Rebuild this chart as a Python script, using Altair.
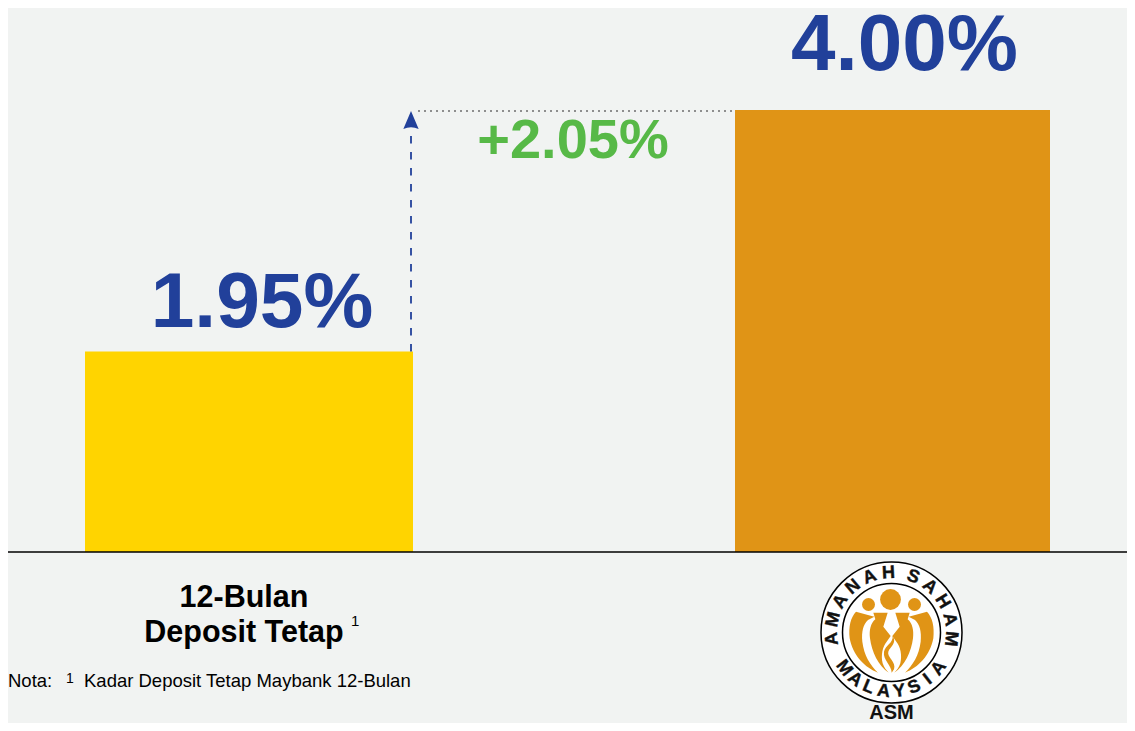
import math
import re
import altair as alt
import pandas as pd

# ---- data -------------------------------------------------------------
categories = ["12-Bulan Deposit Tetap", "ASM"]
rates = [1.95, 4.00]
rate_labels = ["1.95%", "4.00%"]
gap_label = "+2.05%"
bar_colors = ["#FFD400", "#E09416"]
label_line1 = "12-Bulan"
label_line2 = "Deposit Tetap"
note_head = "Nota:"
note_text = "Kadar Deposit Tetap Maybank 12-Bulan"
logo_top = "AMANAH SAHAM"
logo_bottom = "MALAYSIA"
logo_name = "ASM"

FONT = "Liberation Sans"
BLUE = "#21409A"
GREEN = "#57B947"
ORANGE = "#E09416"
BG = "#F1F3F2"
W, H = 1119, 715
OX, OY = 8, 8  # page margin

df = pd.DataFrame({"cat": categories, "rate": rates, "label": rate_labels})

x_scale = alt.Scale(type="point", domain=categories, range=[249 - OX, 892.5 - OX], padding=0)
y_scale = alt.Scale(domain=[0, 1.95, 4.0], range=[552 - OY, 351.5 - OY, 110 - OY])
X = alt.X("cat:N", scale=x_scale, axis=None)
Y = alt.Y("rate:Q", scale=y_scale, axis=None)

bars = alt.Chart(df).mark_bar().encode(
    x=X, y=Y,
    size=alt.Size("cat:N", scale=alt.Scale(domain=categories, range=[328, 315]), legend=None),
    color=alt.Color("cat:N", scale=alt.Scale(domain=categories, range=bar_colors), legend=None),
)

def value_label(row, dx, dy, size):
    return alt.Chart(df.iloc[[row]]).mark_text(
        font=FONT, fontWeight="bold", fontSize=size, color=BLUE,
        baseline="alphabetic", align="center", dx=dx, dy=dy,
    ).encode(x=X, y=Y, text="label:N")

baseline = alt.Chart(pd.DataFrame({"rate": [0.0]})).mark_rule(color="#000000", strokeWidth=1.5).encode(
    y=Y, x=alt.value(0), x2=alt.value(W)
)
dotted = alt.Chart(pd.DataFrame({"rate": [4.0]})).mark_rule(
    color="#6E6E6E", strokeWidth=1.5, strokeDash=[2, 4]
).encode(y=Y, yOffset=alt.value(1), x=alt.value(418 - OX), x2=alt.value(735 - OX))
riser = alt.Chart(pd.DataFrame({"rate": [1.95], "top": [3.85]})).mark_rule(
    color=BLUE, strokeWidth=2, strokeDash=[7.5, 8.5], opacity=0.9
).encode(y=Y, y2=alt.Y2("top:Q"), x=alt.value(411 - OX))
head = alt.Chart(pd.DataFrame({"rate": [4.0]})).mark_point(
    shape="M0,-1 L0.85,1 Q0,0.6 -0.85,1 Z", filled=True, color=BLUE, opacity=1, size=324, strokeWidth=0
).encode(y=alt.value(120 - OY), x=alt.value(411 - OX))

def free_text(text, x, y, size, weight="normal", align="left", color="#000000"):
    return alt.Chart(pd.DataFrame({"t": [text]})).mark_text(
        font=FONT, fontSize=size, fontWeight=weight, align=align, baseline="alphabetic", color=color
    ).encode(x=alt.value(x - OX), y=alt.value(y - OY), text="t:N")

gap = free_text(gap_label, 573, 158, 56, "bold", "center", GREEN)
labels = [
    free_text(label_line1, 244, 606.5, 30.5, "bold", "center"),
    free_text(label_line2, 244, 641.5, 30.5, "bold", "center"),
    free_text("1", 351, 626, 15),
    free_text(note_head, 8, 686.5, 18.5),
    free_text("1", 66, 683, 14),
    free_text(note_text, 84, 686.5, 18.5),
]

# ---- logo -------------------------------------------------------------
CX, CY = 891.5 - OX, 632.5 - OY
LX = alt.X("px:Q", scale=None, axis=None)
LY = alt.Y("py:Q", scale=None, axis=None)

def ring(d, stroke):
    return alt.Chart(pd.DataFrame({"px": [CX], "py": [CY]})).mark_point(
        shape="circle", filled=True, color="#FFFFFF", opacity=1, size=d * d,
        stroke="#000000", strokeWidth=stroke,
    ).encode(x=LX, y=LY)

heads = alt.Chart(pd.DataFrame({
    "px": [CX - 1, CX - 23, CX + 23],
    "py": [CY - 33, CY - 28, CY - 28],
    "s": [20.8 ** 2, 13 ** 2, 13 ** 2],
})).mark_point(shape="circle", filled=True, color=ORANGE, opacity=1, strokeWidth=0).encode(
    x=LX, y=LY, size=alt.Size("s:Q", scale=None, legend=None)
)

def to_units(path, mirror=False):
    nums = iter(re.findall(r"[A-Z]|-?[\d.]+", path))
    out, is_x = [], True
    for tok in nums:
        if tok.isalpha():
            out.append(tok)
            is_x = True
            continue
        v = float(tok)
        if is_x:
            zx = 309 - v if mirror else v
            out.append(f"{(zx - 154.5) / 3 / 50:.4f}")
        else:
            out.append(f"{(v - 157.5) / 3 / 50:.4f}")
        is_x = not is_x
    return " ".join(out)

outer = "M48 95 L103 110 L84 120 C70 132 64 155 67 185 C72 225 90 255 114 278 C75 264 38 225 29 175 C25 140 32 112 48 95 Z"
inner = "M100 98 L143 98 L130 140 L152 168 L140 185 C128 200 122 225 128 250 C132 262 138 270 146 278 C115 258 95 215 90 175 C87 150 92 130 106 118 Z"
flame = "M158 168 C172 190 150 200 145 215 C140 232 170 245 162 268 L155 278 C155 255 128 240 132 215 C136 195 160 190 158 168 Z"
body_paths = [to_units(outer), to_units(outer, True), to_units(inner), to_units(inner, True), to_units(flame)]
bodies = [
    alt.Chart(pd.DataFrame({"px": [CX], "py": [CY]})).mark_point(
        shape=p, filled=True, color=ORANGE, opacity=1, size=10000, strokeWidth=0
    ).encode(x=LX, y=LY)
    for p in body_paths
]

R = 59.5
rows = []
weights = [0 if i == 0 else (0.65 if ch == " " or logo_top[i - 1] == " " else 1) for i, ch in enumerate(logo_top)]
step_top = 192 / sum(weights)
t = -96
for ch, w in zip(logo_top, weights):
    t += w * step_top
    if ch != " ":
        rows.append({"ch": ch, "px": CX + R * math.sin(math.radians(t)),
                     "py": CY - R * math.cos(math.radians(t)), "rot": t % 360})
step_bot = 106 / (len(logo_bottom) - 1)
for i, ch in enumerate(logo_bottom):
    b = 53 - i * step_bot
    rows.append({"ch": ch, "px": CX - R * math.sin(math.radians(b)),
                 "py": CY + R * math.cos(math.radians(b)), "rot": b % 360})
ring_text = alt.Chart(pd.DataFrame(rows)).mark_text(
    font=FONT, fontWeight="bold", fontSize=18, color="#111111", align="center", baseline="middle",
    stroke="#111111", strokeWidth=0.4,
).encode(x=LX, y=LY, text="ch:N", angle=alt.Angle("rot:Q", scale=None))

name = alt.Chart(pd.DataFrame({"t": [logo_name], "px": [CX], "py": [718.5 - OY]})).mark_text(
    font=FONT, fontWeight="bold", fontSize=20, color="#111111", align="center", baseline="alphabetic"
).encode(x=LX, y=LY, text="t:N")

main = alt.layer(
    bars, baseline, dotted, riser, head,
    value_label(0, 13, -25, 78.5), value_label(1, 12, -40, 80),
    gap, *labels,
)
logo = alt.layer(ring(141, 1.5), ring(98, 1.5), heads, *bodies, ring_text, name)

chart = alt.layer(main, logo).resolve_scale(x="independent", y="independent").properties(
    width=W, height=H, background=BG, padding=0, autosize=alt.AutoSizeParams(type="none")
).configure_view(stroke=None)

chart.save("out.html", embed_options={"renderer": "svg", "actions": False})
